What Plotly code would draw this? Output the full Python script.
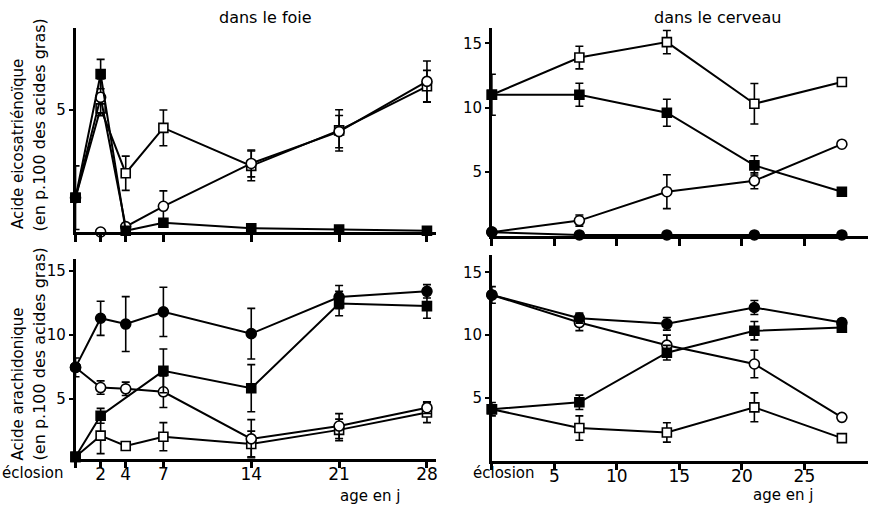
import plotly.graph_objects as go

NaN = float("nan")

# ---------------- DATA ----------------
jours_foie = [0, 2, 4, 7, 14, 21, 28]
jours_cerveau = [0, 7, 14, 21, 28]

# Acide eicosatriénoïque – dans le foie
foie_eico_carre_plein = [1.4, 6.45, 0.05, 0.38, 0.15, 0.1, 0.05]
foie_eico_carre_plein_err = [1.3, 0.6, NaN, NaN, NaN, NaN, NaN]
foie_eico_carre_vide = [1.4, 5.05, 2.4, 4.25, 2.7, 4.15, 5.95]
foie_eico_carre_vide_err = [NaN, NaN, 0.7, 0.73, 0.61, 0.84, 0.65]
foie_eico_cercle_vide = [1.4, 5.5, 0.22, 1.05, 2.8, 4.1, 6.15]
foie_eico_cercle_vide_err = [NaN, 0.75, NaN, 0.63, 0.55, 0.66, 0.83]
foie_eico_cercle_plein = [NaN, 0.0, NaN, NaN, NaN, NaN, NaN]

# Acide eicosatriénoïque – dans le cerveau
cerv_eico_carre_plein = [11.0, 11.0, 9.6, 5.5, 3.45]
cerv_eico_carre_plein_err = [1.6, 0.9, 1.05, 0.75, NaN]
cerv_eico_carre_vide = [11.0, 13.9, 15.1, 10.3, 12.0]
cerv_eico_carre_vide_err = [NaN, 0.88, 0.9, 1.58, NaN]
cerv_eico_cercle_vide = [0.3, 1.2, 3.45, 4.3, 7.15]
cerv_eico_cercle_vide_err = [NaN, 0.43, 1.32, 0.62, NaN]
cerv_eico_cercle_plein = [0.3, 0.08, 0.08, 0.08, 0.08]

# Acide arachidonique – dans le foie
foie_arach_cercle_plein = [7.47, 11.3, 10.85, 11.8, 10.1, 12.95, 13.4]
foie_arach_cercle_plein_err = [0.73, 1.33, 2.14, 1.92, 1.97, 0.9, 0.52]
foie_arach_cercle_vide = [7.47, 5.9, 5.8, 5.57, 1.9, 2.9, 4.33]
foie_arach_cercle_vide_err = [NaN, 0.52, 0.52, 1.23, 1.5, 0.97, 0.45]
foie_arach_carre_plein = [0.5, 3.7, NaN, 7.2, 5.85, 12.45, 12.25]
foie_arach_carre_plein_err = [NaN, 0.58, NaN, 1.7, 1.84, 0.95, 0.95]
foie_arach_carre_vide = [0.5, 2.15, 1.35, 2.07, 1.5, 2.6, 3.95]
foie_arach_carre_vide_err = [NaN, 1.4, NaN, 1.1, 1.0, 0.84, 0.78]

# Acide arachidonique – dans le cerveau
cerv_arach_cercle_plein = [13.2, 11.35, 10.9, 12.2, 11.0]
cerv_arach_cercle_plein_err = [0.66, 0.4, 0.5, 0.56, 0.25]
cerv_arach_cercle_vide = [13.2, 11.0, 9.2, 7.7, 3.45]
cerv_arach_cercle_vide_err = [NaN, 0.64, 0.8, 1.09, NaN]
cerv_arach_carre_plein = [4.1, 4.65, 8.6, 10.35, 10.6]
cerv_arach_carre_plein_err = [0.53, 0.57, 0.58, 0.73, NaN]
cerv_arach_carre_vide = [4.1, 2.6, 2.25, 4.25, 1.8]
cerv_arach_carre_vide_err = [NaN, 0.97, 0.77, 1.15, NaN]

ticks_foie = [0, 2, 4, 7, 14, 21, 28]
ticks_foie_txt = ["", "2", "4", "7", "14", "21", "28"]
ticks_cerv = [0, 5, 10, 15, 20, 25]
ticks_cerv_txt = ["", "5", "10", "15", "20", "25"]

# ---------------- LAYOUT GEOMETRY ----------------
W, H = 871, 510
FONT = "DejaVu Sans"


def px_x(p):
    return p / W


def px_y(p):
    return 1 - p / H


fig = go.Figure()

STYLES = {
    "carre_plein": dict(symbol="square", color="black", size=9),
    "carre_vide": dict(symbol="square", color="white", size=9),
    "cercle_plein": dict(symbol="circle", color="black", size=10),
    "cercle_vide": dict(symbol="circle", color="white", size=10),
}


def serie(xa, ya, x, y, style, err=None):
    st = STYLES[style]
    tr = dict(
        x=x, y=y, xaxis=xa, yaxis=ya, mode="lines+markers",
        connectgaps=True, cliponaxis=False, showlegend=False,
        line=dict(color="black", width=2),
        marker=dict(symbol=st["symbol"], size=st["size"], color=st["color"],
                    line=dict(color="black", width=1.6)),
    )
    if err is not None:
        tr["error_y"] = dict(type="data", array=err, symmetric=True,
                             color="black", thickness=1.6, width=4)
    fig.add_trace(go.Scatter(**tr))


# Top-left: foie, eicosatriénoïque
serie("x", "y", jours_foie, foie_eico_cercle_plein, "cercle_vide")
serie("x", "y", jours_foie, foie_eico_carre_vide, "carre_vide", foie_eico_carre_vide_err)
serie("x", "y", jours_foie, foie_eico_cercle_vide, "cercle_vide", foie_eico_cercle_vide_err)
serie("x", "y", jours_foie, foie_eico_carre_plein, "carre_plein", foie_eico_carre_plein_err)

# Top-right: cerveau, eicosatriénoïque
serie("x2", "y2", jours_cerveau, cerv_eico_carre_vide, "carre_vide", cerv_eico_carre_vide_err)
serie("x2", "y2", jours_cerveau, cerv_eico_cercle_vide, "cercle_vide", cerv_eico_cercle_vide_err)
serie("x2", "y2", jours_cerveau, cerv_eico_carre_plein, "carre_plein", cerv_eico_carre_plein_err)
serie("x2", "y2", jours_cerveau, cerv_eico_cercle_plein, "cercle_plein")

# Bottom-left: foie, arachidonique
serie("x3", "y3", jours_foie, foie_arach_carre_vide, "carre_vide", foie_arach_carre_vide_err)
serie("x3", "y3", jours_foie, foie_arach_cercle_vide, "cercle_vide", foie_arach_cercle_vide_err)
serie("x3", "y3", jours_foie, foie_arach_carre_plein, "carre_plein", foie_arach_carre_plein_err)
serie("x3", "y3", jours_foie, foie_arach_cercle_plein, "cercle_plein", foie_arach_cercle_plein_err)

# Bottom-right: cerveau, arachidonique
serie("x4", "y4", jours_cerveau, cerv_arach_carre_vide, "carre_vide", cerv_arach_carre_vide_err)
serie("x4", "y4", jours_cerveau, cerv_arach_cercle_vide, "cercle_vide", cerv_arach_cercle_vide_err)
serie("x4", "y4", jours_cerveau, cerv_arach_carre_plein, "carre_plein", cerv_arach_carre_plein_err)
serie("x4", "y4", jours_cerveau, cerv_arach_cercle_plein, "cercle_plein", cerv_arach_cercle_plein_err)

axis_common = dict(showgrid=False, zeroline=False, showline=True,
                   linecolor="black", linewidth=2.5, ticks="outside",
                   tickcolor="black", tickfont=dict(family=FONT, size=17, color="black"))


def xax(domain_px, rng, anchor, tv, tt, labels):
    d = dict(axis_common)
    d.update(domain=[px_x(domain_px[0]), px_x(domain_px[1])], range=rng,
             anchor=anchor, tickvals=tv, ticktext=tt, ticklen=7, tickwidth=2.5,
             showticklabels=labels, ticklabelstandoff=-9)
    return d


def yax(domain_px, rng, anchor, tv):
    d = dict(axis_common)
    d.update(domain=[px_y(domain_px[1]), px_y(domain_px[0])], range=rng,
             anchor=anchor, tickvals=tv, ticklen=4, tickwidth=2,
             tickfont=dict(family=FONT, size=15, color="black"))
    return d


fig.update_layout(
    width=W, height=H, margin=dict(l=0, r=0, t=0, b=0),
    paper_bgcolor="white", plot_bgcolor="white",
    font=dict(family=FONT, color="black"),
    xaxis=xax([75.7, 437], [0, 28.72], "y", ticks_foie, ticks_foie_txt, False),
    yaxis=yax([28, 232], [0, 8.33], "x", [5]),
    xaxis2=xax([493, 870], [0, 30.09], "y2", ticks_cerv, ticks_cerv_txt, False),
    yaxis2=yax([28, 236], [0, 16.2], "x2", [5, 10, 15]),
    xaxis3=xax([75.7, 437], [0, 28.72], "y3", ticks_foie, ticks_foie_txt, True),
    yaxis3=yax([259, 458.5], [0.37, 15.92], "x3", [5, 10, 15]),
    xaxis4=xax([493, 870], [0, 30.09], "y4", ticks_cerv, ticks_cerv_txt, True),
    yaxis4=yax([255, 460.7], [0, 16.38], "x4", [5, 10, 15]),
)


def note(text, x, y, size, xanchor="center", yanchor="middle", angle=0):
    fig.add_annotation(text=text, x=px_x(x), y=px_y(y), xref="paper", yref="paper",
                       showarrow=False, xanchor=xanchor, yanchor=yanchor,
                       textangle=angle, font=dict(family=FONT, size=size, color="black"))


note("dans le foie", 266, 18, 16)
note("dans le cerveau", 719, 18, 16)
note("éclosion", 66, 473, 15, xanchor="right")
note("éclosion", 505, 473, 15)
note("age en j", 371, 496, 15)
note("age en j", 785, 495, 15)
note("Acide eicosatriénoïque", 18, 231, 15, yanchor="bottom", angle=-90)
note("(en p.100 des acides gras)", 40, 233, 16, yanchor="bottom", angle=-90)
note("Acide arachidonique", 18, 462, 15, yanchor="bottom", angle=-90)
note("(en p.100 des acides gras)", 40, 462, 16, yanchor="bottom", angle=-90)

fig.write_html("out.html", config={"displayModeBar": False},
               post_script="document.body.style.margin='0';document.body.style.padding='0';")
